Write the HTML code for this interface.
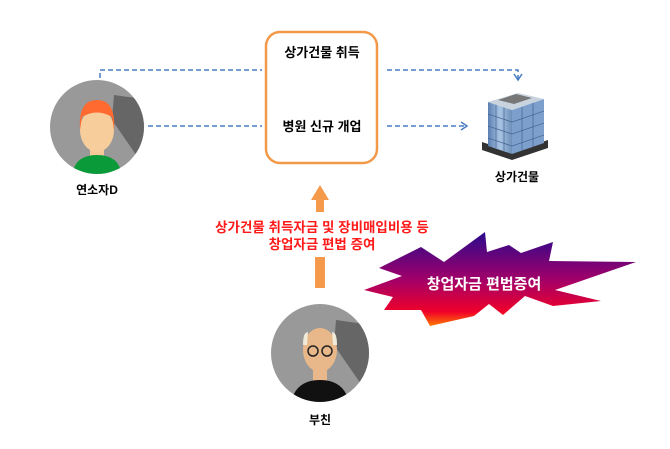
<!DOCTYPE html>
<html><head><meta charset="utf-8"><style>
body{margin:0;width:670px;height:444px;background:#fff;overflow:hidden;font-family:"Liberation Sans","Noto Sans CJK KR",sans-serif}
</style></head><body>
<svg width="670" height="444" viewBox="0 0 670 444" xmlns="http://www.w3.org/2000/svg" font-family="Liberation Sans, Noto Sans CJK KR, sans-serif">
<defs>
<linearGradient id="sg" x1="0" y1="0" x2="0" y2="1"><stop offset="0" stop-color="#2a0a8c"/><stop offset="0.5" stop-color="#a0006a"/><stop offset="0.85" stop-color="#f0002a"/><stop offset="1" stop-color="#ff7a00"/></linearGradient>
<linearGradient id="bg" x1="0" y1="0" x2="1" y2="0"><stop offset="0" stop-color="#5a7fb0"/><stop offset="0.5" stop-color="#a8c4e4"/><stop offset="1" stop-color="#6e8fb8"/></linearGradient>
<clipPath id="c1"><circle cx="97" cy="127" r="47"/></clipPath>
<clipPath id="c2"><circle cx="320" cy="353" r="49"/></clipPath>
</defs>
<g stroke="#4a7cc0" stroke-width="1.5" stroke-dasharray="5,3" fill="none">
<path d="M100 102 V70 H262"/>
<path d="M387 70 H518 V80"/>
<path d="M148 126 H262"/>
<path d="M387 126 H465"/>
</g>
<g stroke="#4a7cc0" stroke-width="1.5" fill="none"><path d="M514 74 L518 80 L522 74"/><path d="M461 122 L467 126 L461 130"/></g>
<rect x="266" y="32" width="111" height="131" rx="14" fill="#fff" stroke="#f39a4a" stroke-width="2.5"/>
<text x="322" y="57" font-size="13" font-weight="bold" text-anchor="middle">상가건물 취득</text>
<text x="322" y="131" font-size="13" font-weight="bold" text-anchor="middle">병원 신규 개업</text>
<!-- person 1 -->
<circle cx="97" cy="127" r="47" fill="#999"/>
<g clip-path="url(#c1)">
<path d="M112 120 L150 175 L150 100 L114 95Z" fill="#666"/>
<rect x="90" y="146" width="14" height="14" fill="#f5c89a"/>
<ellipse cx="97" cy="130" rx="17" ry="22" fill="#f8cd9c"/>
<path d="M80 130 Q78 100 97 100 Q116 100 114 130 L112 117 Q97 108 82 117Z" fill="#ff6a30"/>
<path d="M72 180 Q72 155 97 155 Q122 155 122 180Z" fill="#0a9a3a"/>
</g>
<text x="97" y="194" font-size="12" font-weight="bold" text-anchor="middle">연소자D</text>
<!-- building -->
<path d="M482 150 L512 160 L548 148 L548 140 L512 152 L482 142Z" fill="#333"/>
<path d="M488 102 L512 110 L512 154 L488 146Z" fill="url(#bg)"/>
<path d="M512 110 L544 99 L544 143 L512 154Z" fill="#7d9fcc"/>
<g stroke="#3a5a8a" stroke-width="0.6" fill="none"><path d="M488 114 L512 122 L544 111 M488 126 L512 134 L544 123 M488 138 L512 146 L544 135 M496 104 V148 M504 107 V151 M522 107 V151 M533 103 V147"/></g>
<path d="M488 102 L518 93 L544 99 L512 110Z" fill="#c8d3de"/>
<path d="M498 100 L516 94 L532 98 L514 104Z" fill="#777"/>
<text x="517" y="181" font-size="12" font-weight="bold" text-anchor="middle">상가건물</text>
<!-- orange arrow -->
<path d="M311 200 L320 185 L329 200 L324 200 L324 212 L316 212 L316 200Z" fill="#f59a4a"/>
<rect x="315" y="257" width="10" height="31" fill="#f59a4a"/>
<text x="322" y="232" font-size="13.5" font-weight="bold" fill="#ff1a1a" text-anchor="middle">상가건물 취득자금 및 장비매입비용 등</text>
<text x="322" y="249" font-size="13.5" font-weight="bold" fill="#ff1a1a" text-anchor="middle">창업자금 편법 증여</text>
<!-- starburst -->
<polygon points="421,247 444,262 485,232 487,252 509,245 521,253 553,242 549,261 636,262 555,290 601,301 553,306 525,296 503,315 489,304 474,316 430,326 421,310 384,310 393,297 364,290 402,276 379,268" fill="url(#sg)"/>
<text x="484" y="289" font-size="15" font-weight="bold" fill="#fff" text-anchor="middle">창업자금 편법증여</text>
<!-- father -->
<circle cx="320" cy="353" r="49" fill="#999"/>
<g clip-path="url(#c2)">
<path d="M334 345 L372 400 L372 325 L336 320Z" fill="#666"/>
<rect x="313" y="370" width="14" height="14" fill="#e8b88a"/>
<ellipse cx="320" cy="350" rx="17" ry="22" fill="#e8b88a"/>
<path d="M303 345 Q303 332 308 332 L307 345Z M337 345 Q337 332 332 332 L333 345Z" fill="#f0ead8"/>
<circle cx="313" cy="351" r="5" fill="none" stroke="#222" stroke-width="1.5"/>
<circle cx="327" cy="351" r="5" fill="none" stroke="#222" stroke-width="1.5"/>
<path d="M290 410 Q292 380 320 380 Q348 380 350 410Z" fill="#111"/>
</g>
<text x="320" y="424" font-size="12" font-weight="bold" text-anchor="middle">부친</text>
</svg>
</body></html>
